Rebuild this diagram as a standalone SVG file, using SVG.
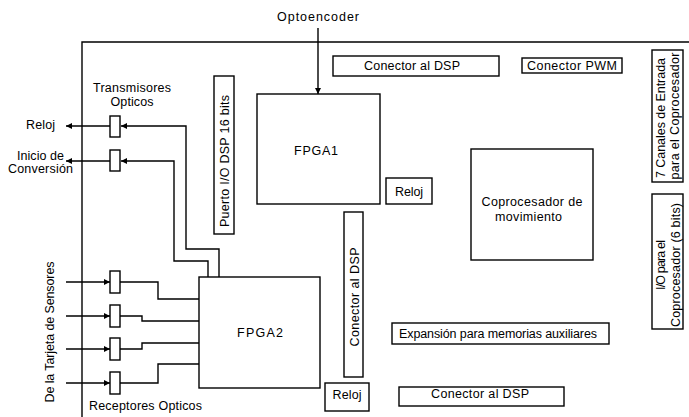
<svg xmlns="http://www.w3.org/2000/svg" width="689" height="417" viewBox="0 0 689 417">
<defs>
<marker id="ah" viewBox="0 0 6 6" refX="6" refY="3" markerWidth="6" markerHeight="6" markerUnits="userSpaceOnUse" orient="auto">
<path d="M0,0 L6,3 L0,6 Z" fill="#000"/>
</marker>
<style>
.b{fill:#fff;stroke:#000;stroke-width:1.4}
.l{fill:none;stroke:#000;stroke-width:1.4}
.a{fill:none;stroke:#000;stroke-width:1.4;marker-end:url(#ah)}
text{font-family:"Liberation Sans",Arial,sans-serif;font-size:12.5px;fill:#000}
.m{text-anchor:middle}
</style>
</defs>
<rect width="689" height="417" fill="#fff"/>
<g id="board">
<path class="l" d="M82,417 V42 H689"/>
</g>
<g id="connectors">
<path class="a" d="M318,28 V94"/>
<path class="a" d="M110,126 H66"/>
<path class="a" d="M110,161 H66"/>
<path class="a" d="M219,277 V249 H186 V126 H121"/>
<path class="a" d="M208,277 V261 H174 V161 H121"/>
<path class="a" d="M66,282 H110"/>
<path class="a" d="M66,316 H110"/>
<path class="a" d="M66,349 H110"/>
<path class="a" d="M66,383 H110"/>
<path class="l" d="M120,282 H158 V299 H199"/>
<path class="l" d="M120,316 H142 V321 H199"/>
<path class="l" d="M120,349 H142 V343 H199"/>
<path class="l" d="M120,383 H158 V364 H199"/>
</g>
<g id="optoencoder"><text x="318" y="21" class="m" font-size="13" textLength="82">Optoencoder</text></g>
<g id="fpga1"><rect class="b" x="257" y="94" width="123" height="110"/><text x="316" y="155" class="m" font-size="13" textLength="44">FPGA1</text></g>
<g id="conector-dsp-top"><rect class="b" x="333" y="56" width="166" height="20"/><text x="412" y="70" class="m" textLength="96">Conector al DSP</text></g>
<g id="conector-pwm"><rect class="b" x="522" y="58" width="100" height="15"/><text x="572" y="70" class="m" textLength="90">Conector  PWM</text></g>
<g id="canales"><rect class="b" x="652" y="50" width="31" height="132"/>
<text transform="translate(665,118) rotate(-90)" class="m" textLength="120">7 Canales de Entrada</text>
<text transform="translate(679,116) rotate(-90)" class="m" textLength="127">para el Coprocesador</text></g>
<g id="io-coprocesador"><rect class="b" x="652" y="194" width="31" height="135"/>
<text transform="translate(665,265) rotate(-90)" class="m" textLength="50">I/O para el</text>
<text transform="translate(680,265) rotate(-90)" class="m" textLength="124">Coprocesador (6 bits)</text></g>
<g id="puerto-io"><rect class="b" x="214" y="76" width="20" height="158"/>
<text transform="translate(229,161) rotate(-90)" class="m" textLength="132">Puerto I/O DSP 16 bits</text></g>
<g id="transmisores">
<text x="132" y="92" class="m" textLength="78">Transmisores</text>
<text x="132" y="106" class="m" textLength="43">Opticos</text>
<rect class="b" x="110" y="116" width="10" height="21"/>
<rect class="b" x="110" y="150" width="10" height="21"/>
</g>
<g id="reloj-out"><text x="26" y="129" textLength="29">Reloj</text></g>
<g id="inicio-conversion"><text x="40.5" y="160" class="m" textLength="47">Inicio de</text><text x="40.5" y="173" class="m" textLength="65">Conversión</text></g>
<g id="reloj-1"><rect class="b" x="386" y="178" width="46" height="26"/><text x="409" y="196" class="m" textLength="28">Reloj</text></g>
<g id="coprocesador"><rect class="b" x="471" y="149" width="122" height="111"/>
<text x="532" y="206" class="m" textLength="101">Coprocesador de</text>
<text x="528.5" y="221" class="m" textLength="67">movimiento</text></g>
<g id="fpga2"><rect class="b" x="199" y="277" width="121" height="111"/><text x="260" y="337" class="m" font-size="13" textLength="46">FPGA2</text></g>
<g id="receptores">
<rect class="b" x="110" y="271" width="10" height="22"/>
<rect class="b" x="110" y="305" width="10" height="22"/>
<rect class="b" x="110" y="338" width="10" height="22"/>
<rect class="b" x="110" y="372" width="10" height="22"/>
<text x="145.5" y="410" class="m" textLength="113">Receptores Opticos</text>
</g>
<g id="tarjeta-sensores"><text transform="translate(54,332) rotate(-90)" class="m" textLength="141">De la Tarjeta de Sensores</text></g>
<g id="conector-dsp-vert"><rect class="b" x="344" y="212" width="19" height="165"/>
<text transform="translate(359,297) rotate(-90)" class="m" textLength="99">Conector al DSP</text></g>
<g id="reloj-2"><rect class="b" x="325" y="383" width="44" height="28"/><text x="347" y="399" class="m" textLength="29">Reloj</text></g>
<g id="expansion"><rect class="b" x="392" y="323" width="217" height="21"/><text x="498" y="338" class="m" textLength="198">Expansión para memorias auxiliares</text></g>
<g id="conector-dsp-bottom"><rect class="b" x="399" y="387" width="165" height="19"/><text x="480" y="398" class="m" textLength="98">Conector al DSP</text></g>
</svg>
